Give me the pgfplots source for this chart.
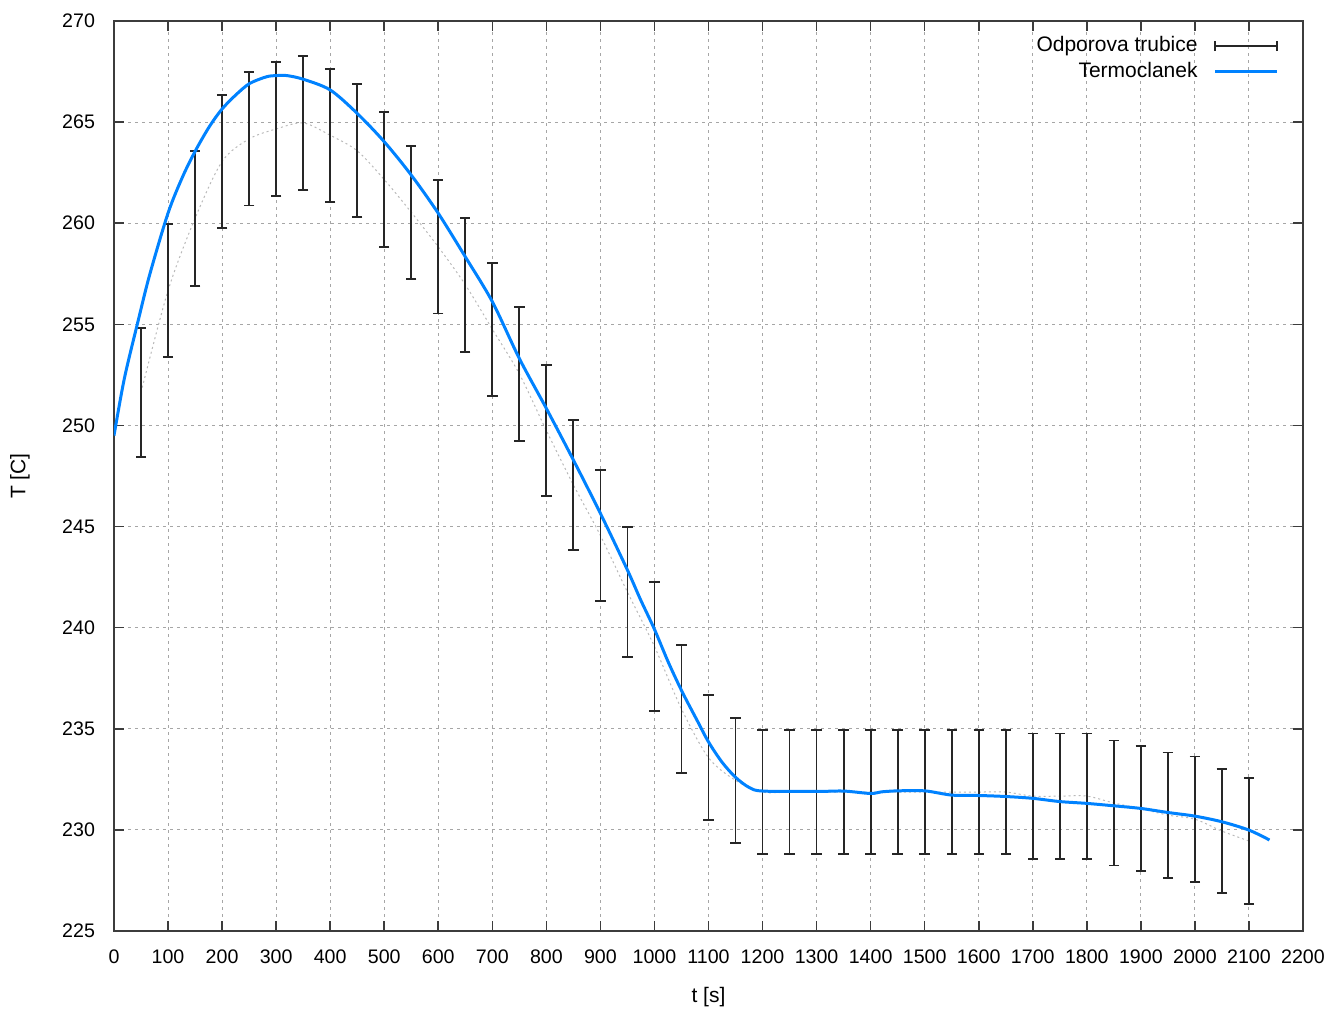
\documentclass[border=0pt]{standalone}
\usepackage{fontspec}
\setmainfont{Liberation Sans}
\usepackage{pgfplots}
\pgfplotsset{compat=1.18}
\usepackage{pgfplotstable}
\definecolor{tcblue}{RGB}{0,130,255}
\definecolor{axgray}{RGB}{60,60,60}

\pgfplotstableread{
x c e
50 251.63 3.18
100 256.67 3.30
150 260.24 3.33
200 263.05 3.30
250 264.17 3.29
300 264.66 3.31
350 264.96 3.30
400 264.35 3.29
450 263.58 3.29
500 262.16 3.32
550 260.54 3.28
600 258.83 3.29
650 256.96 3.31
700 254.76 3.29
750 252.55 3.32
800 249.75 3.23
850 247.06 3.22
900 244.56 3.24
950 241.76 3.21
1000 239.07 3.19
1050 235.98 3.17
1100 233.57 3.09
1150 232.45 3.09
1200 231.87 3.08
1250 231.87 3.08
1300 231.87 3.08
1350 231.87 3.08
1400 231.87 3.08
1450 231.87 3.08
1500 231.87 3.08
1550 231.87 3.08
1600 231.87 3.08
1650 231.87 3.08
1700 231.67 3.10
1750 231.67 3.10
1800 231.67 3.10
1850 231.33 3.09
1900 231.05 3.09
1950 230.73 3.10
2000 230.53 3.10
2050 229.94 3.08
2100 229.45 3.12
}\odpor

\pgfplotstableread{
x y
0 249.5
19 252.3
44 255.1
66 257.45
100 260.5
127 262.3
151 263.6
177 264.8
200 265.65
226 266.36
251 266.91
282 267.24
300 267.3
320 267.3
350 267.12
400 266.59
450 265.43
500 264.03
550 262.38
600 260.49
650 258.34
700 256.12
750 253.31
800 250.84
850 248.29
900 245.65
950 242.85
974 241.4
1000 239.92
1026 238.27
1052 236.79
1079 235.41
1100 234.35
1125 233.35
1150 232.6
1175 232.1
1200 231.92
1300 231.90
1350 231.92
1400 231.80
1420 231.88
1450 231.93
1500 231.93
1550 231.72
1600 231.70
1650 231.65
1700 231.56
1750 231.40
1800 231.31
1850 231.19
1900 231.06
1950 230.86
2000 230.68
2050 230.40
2100 229.99
2138 229.50
}\termo

\begin{document}
\begin{tikzpicture}
\useasboundingbox (-57pt,-40.5pt) rectangle (608pt,465.5pt);
\begin{axis}[
  scale only axis,
  width=594.5pt, height=455pt,
  xmin=0, xmax=2200, ymin=225, ymax=270,
  xtick={0,100,...,2200},
  ytick={225,230,...,270},
  font=\fontsize{10.5pt}{12.5pt}\selectfont,
  tick label style={font=\fontsize{9.8pt}{11pt}\selectfont},
  /pgf/number format/assume math mode=true,
  /pgf/number format/1000 sep={},
  tick align=inside,
  major tick length=5pt,
  axis line style={axgray, line width=0.8pt},
  tick style={axgray, line width=0.8pt},
  grid=major,
  major grid style={gray!70, line width=0.5pt, dash pattern=on 1.5pt off 2pt},
  xticklabel shift=6pt,
  yticklabel shift=6pt,
  xlabel={t [s]},
  ylabel={T [C]},
  xlabel style={at={(axis description cs:0.5,0)}, anchor=center, yshift=-33pt},
  ylabel style={at={(axis description cs:0,0.5)}, anchor=center, yshift=47pt},
  legend plot pos=right,
  legend cell align=right,
  legend style={at={(axis description cs:1,1)}, anchor=north east,
    xshift=-12pt, yshift=-6.5pt, draw=none, fill=none, inner sep=0pt,
    nodes={inner sep=1pt, text height=7.5pt, text depth=2pt},
    row sep=1.5pt, column sep=7pt,
    font=\fontsize{10.5pt}{12.5pt}\selectfont},
]
\addplot[forget plot, gray!55, line width=0.5pt, dash pattern=on 1pt off 1.5pt, smooth] table[x=x, y=c] {\odpor};
\addplot[draw=none, mark=none,
  error bars/.cd, y dir=both, y explicit,
  error mark options={draw=black!85, line width=0.9pt, mark size=2.6pt, rotate=90},
  error bar style={draw=black!85, line width=0.9pt},
  /pgfplots/legend image code/.code={
  \draw[black!85, line width=0.9pt] (0pt,0pt) -- (31pt,0pt);
  \draw[black!85, line width=0.9pt] (0pt,-2.6pt) -- (0pt,2.6pt) (31pt,-2.6pt) -- (31pt,2.6pt);}]
  table[x=x, y=c, y error=e] {\odpor};
\addlegendentry{Odporova trubice}
\addplot[tcblue, line width=1.5pt, smooth,
  legend image code/.code={\draw[tcblue, line width=1.5pt] (0pt,0pt) -- (31pt,0pt);}] table[x=x, y=y] {\termo};
\addlegendentry{Termoclanek}
\end{axis}
\end{tikzpicture}
\end{document}
